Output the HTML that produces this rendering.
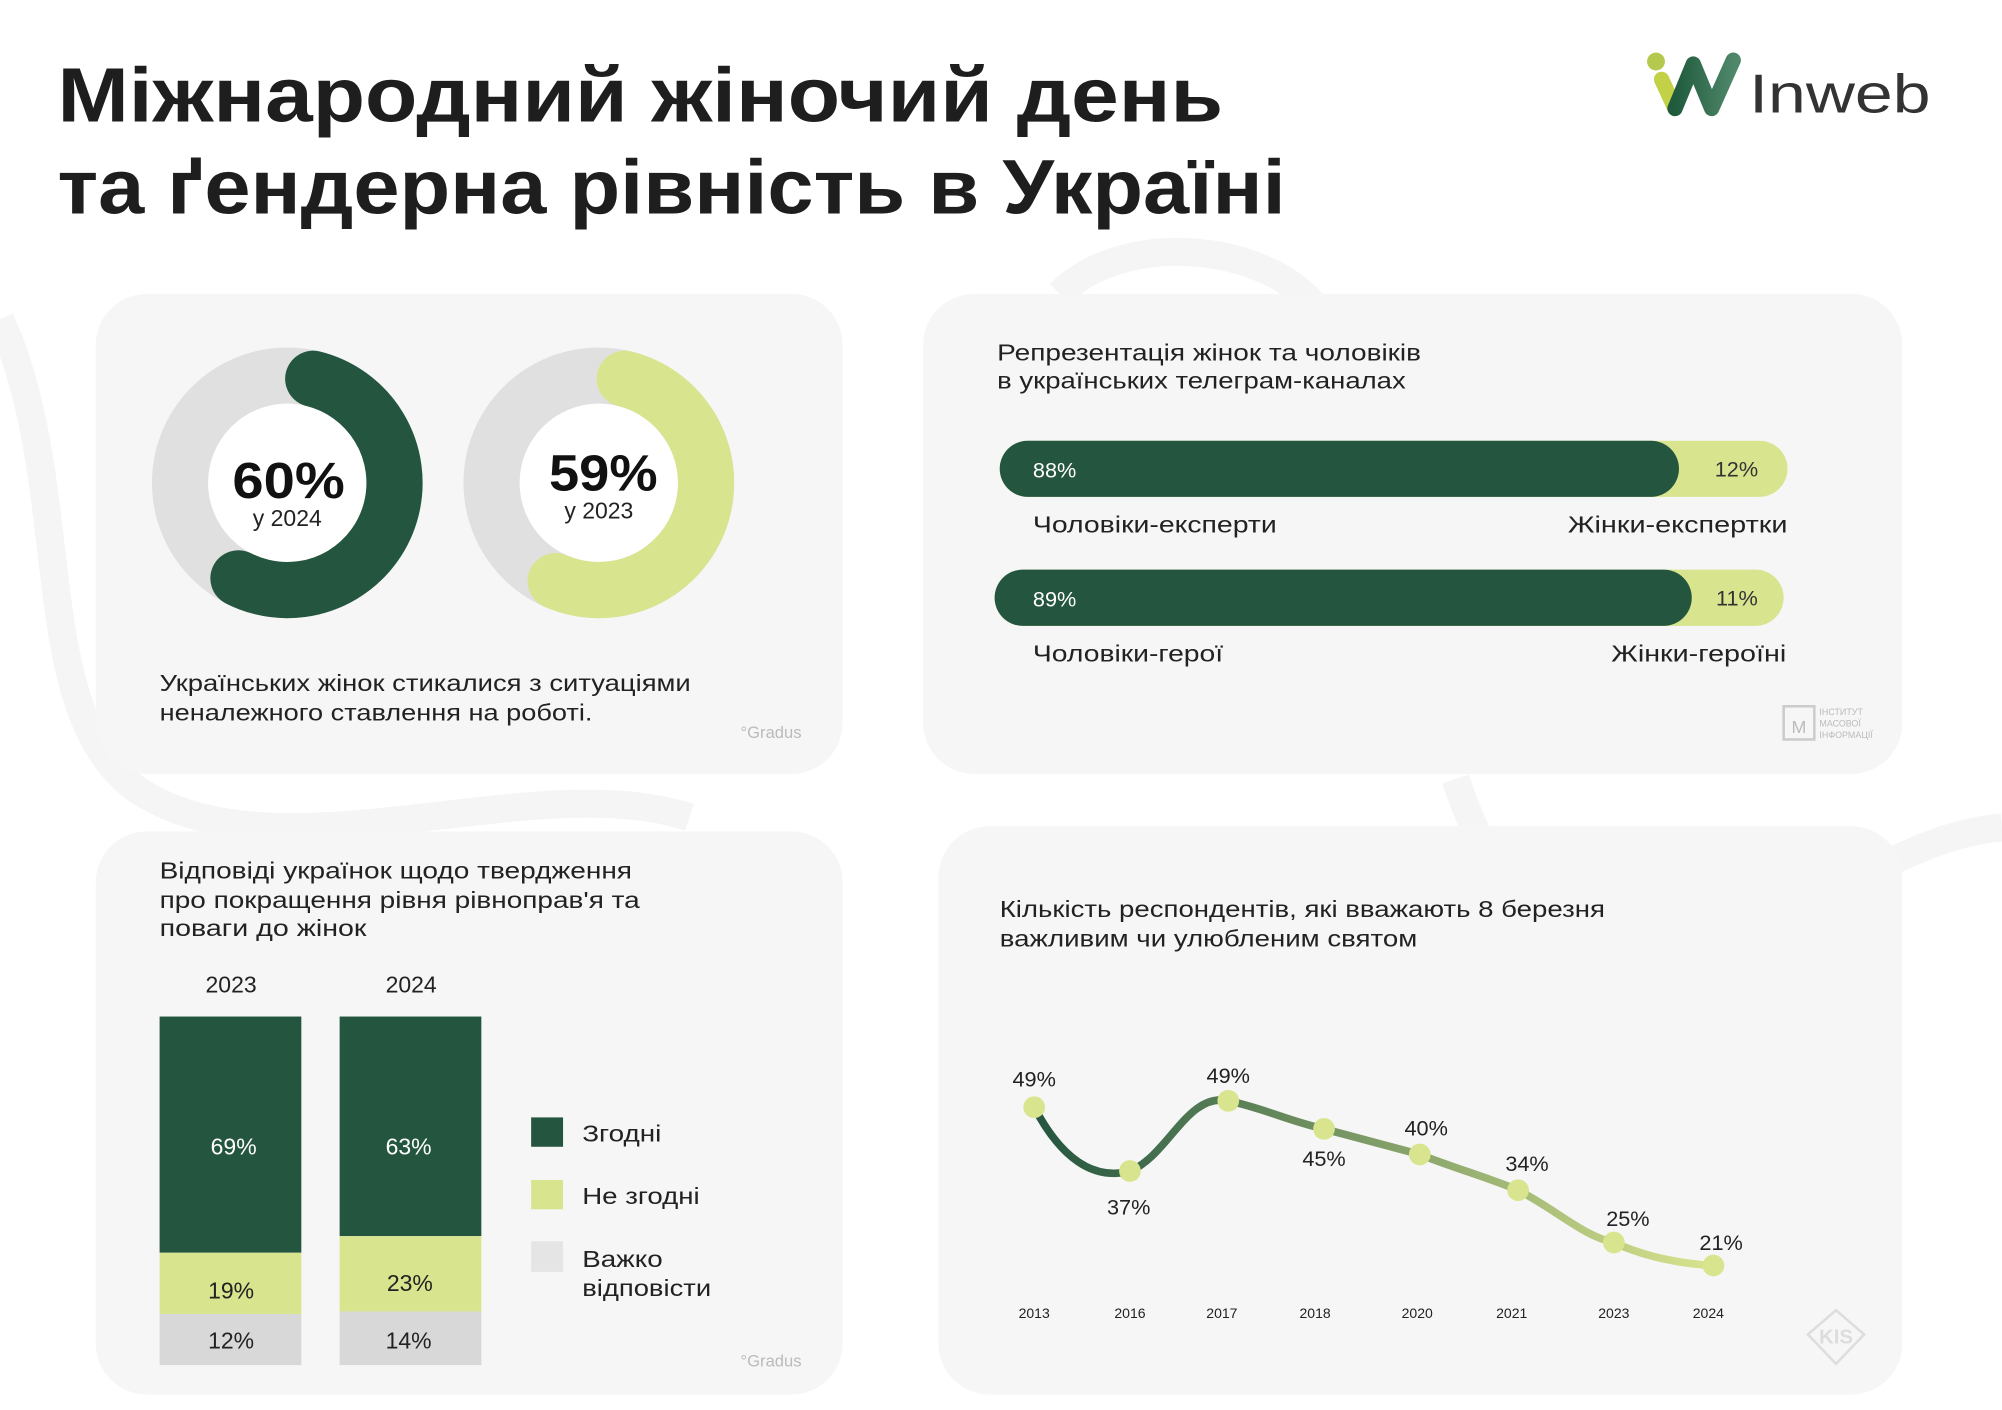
<!DOCTYPE html>
<html><head><meta charset="utf-8"><style>
html,body{margin:0;padding:0;background:#fff;width:2002px;height:1410px;overflow:hidden}
svg{display:block}
text{font-family:"Liberation Sans","DejaVu Sans",sans-serif}
</style></head><body>
<svg width="2002" height="1410" viewBox="0 0 1568 1104" xmlns="http://www.w3.org/2000/svg">
<defs>
<linearGradient id="lg" x1="810" y1="0" x2="1342" y2="0" gradientUnits="userSpaceOnUse">
<stop offset="0" stop-color="#24553f"/><stop offset="1" stop-color="#d9e48e"/></linearGradient>
<linearGradient id="wg" x1="1311" y1="0" x2="1358" y2="0" gradientUnits="userSpaceOnUse">
<stop offset="0" stop-color="#1f5a3c"/><stop offset="1" stop-color="#4f876a"/></linearGradient>
</defs>
<rect width="1568" height="1104" fill="#fff"/>
<g fill="none" stroke="#f5f5f5" stroke-width="22">
<path d="M0,250 C60,380 20,560 110,620 C220,690 420,600 540,640"/>
<path d="M830,230 C880,180 990,190 1030,240"/>
<path d="M1140,610 C1150,640 1160,660 1170,680"/>
<path d="M1470,680 C1510,660 1540,650 1568,648"/>
</g>
<text x="45" y="95" font-size="60" font-weight="bold" fill="#1e1e1e" textLength="913" lengthAdjust="spacingAndGlyphs">Міжнародний жіночий день</text>
<text x="45" y="167" font-size="60" font-weight="bold" fill="#1e1e1e" textLength="962" lengthAdjust="spacingAndGlyphs">та ґендерна рівність в Україні</text>
<circle cx="1297" cy="48" r="7" fill="#b5c94f"/>
<line x1="1301.4" y1="62" x2="1311.9" y2="84.8" stroke="#c2d146" stroke-width="12" stroke-linecap="round"/>
<polyline points="1311.9,84.8 1326.2,50 1340.6,84.8 1357.5,47" fill="none" stroke="url(#wg)" stroke-width="12" stroke-linecap="round" stroke-linejoin="round"/>
<text x="1370" y="88" font-size="43" fill="#333" textLength="142" lengthAdjust="spacingAndGlyphs">Inweb</text>
<rect x="75" y="230" width="585" height="376" rx="40" fill="#f6f6f6"/>
<rect x="723" y="230" width="767" height="376" rx="40" fill="#f6f6f6"/>
<rect x="75" y="651" width="585" height="441" rx="40" fill="#f6f6f6"/>
<rect x="735" y="647" width="755" height="445" rx="40" fill="#f6f6f6"/>
<circle cx="225" cy="378" r="84" fill="none" stroke="#e0e0e0" stroke-width="44"/>
<circle cx="225" cy="378" r="62" fill="#fff"/>
<circle cx="225" cy="378" r="84" fill="none" stroke="#24553f" stroke-width="44" stroke-linecap="round" stroke-dasharray="283 600" transform="rotate(-76 225 378)"/>
<text x="182" y="390" font-size="40" font-weight="bold" fill="#111" textLength="88" lengthAdjust="spacingAndGlyphs">60%</text>
<text x="225" y="412" font-size="18" text-anchor="middle" fill="#222">у 2024</text>
<circle cx="469" cy="378" r="84" fill="none" stroke="#e0e0e0" stroke-width="44"/>
<circle cx="469" cy="378" r="62" fill="#fff"/>
<circle cx="469" cy="378" r="84" fill="none" stroke="#d9e48e" stroke-width="44" stroke-linecap="round" stroke-dasharray="278 600" transform="rotate(-76 469 378)"/>
<text x="430" y="384" font-size="40" font-weight="bold" fill="#111" textLength="85" lengthAdjust="spacingAndGlyphs">59%</text>
<text x="469" y="406" font-size="18" text-anchor="middle" fill="#222">у 2023</text>
<text x="125" y="541" font-size="18" fill="#222" textLength="416" lengthAdjust="spacingAndGlyphs">Українських жінок стикалися з ситуаціями</text>
<text x="125" y="564" font-size="18" fill="#222" textLength="339" lengthAdjust="spacingAndGlyphs">неналежного ставлення на роботі.</text>
<text x="580" y="578" font-size="13" fill="#bbb">°Gradus</text>
<text x="781" y="282" font-size="18" fill="#222" textLength="332" lengthAdjust="spacingAndGlyphs">Репрезентація жінок та чоловіків</text>
<text x="781" y="304" font-size="18" fill="#222" textLength="320" lengthAdjust="spacingAndGlyphs">в українських телеграм-каналах</text>
<rect x="783" y="345" width="617" height="44" rx="22" fill="#d9e48e"/>
<rect x="783" y="345" width="532" height="44" rx="22" fill="#24553f"/>
<text x="809" y="374" font-size="17" fill="#fff">88%</text>
<text x="1343" y="373" font-size="17" fill="#333">12%</text>
<text x="809" y="417" font-size="18" fill="#222" textLength="191" lengthAdjust="spacingAndGlyphs">Чоловіки-експерти</text>
<text x="1228" y="417" font-size="18" fill="#222" textLength="172" lengthAdjust="spacingAndGlyphs">Жінки-експертки</text>
<rect x="779" y="446" width="618" height="44" rx="22" fill="#d9e48e"/>
<rect x="779" y="446" width="546" height="44" rx="22" fill="#24553f"/>
<text x="809" y="475" font-size="17" fill="#fff">89%</text>
<text x="1344" y="474" font-size="17" fill="#333">11%</text>
<text x="809" y="518" font-size="18" fill="#222" textLength="149" lengthAdjust="spacingAndGlyphs">Чоловіки-герої</text>
<text x="1262" y="518" font-size="18" fill="#222" textLength="137" lengthAdjust="spacingAndGlyphs">Жінки-героїні</text>
<rect x="1397" y="553" width="24" height="26" fill="none" stroke="#ccc" stroke-width="2"/>
<text x="1409" y="574" font-size="14" fill="#bbb" text-anchor="middle">М</text>
<text x="1425" y="560" font-size="7" fill="#bbb">ІНСТИТУТ</text>
<text x="1425" y="569" font-size="7" fill="#bbb">МАСОВОЇ</text>
<text x="1425" y="578" font-size="7" fill="#bbb">ІНФОРМАЦІЇ</text>
<text x="125" y="688" font-size="18" fill="#222" textLength="370" lengthAdjust="spacingAndGlyphs">Відповіді українок щодо твердження</text>
<text x="125" y="711" font-size="18" fill="#222" textLength="376" lengthAdjust="spacingAndGlyphs">про покращення рівня рівноправ'я та</text>
<text x="125" y="733" font-size="18" fill="#222" textLength="162" lengthAdjust="spacingAndGlyphs">поваги до жінок</text>
<text x="181" y="777" font-size="18" fill="#222" text-anchor="middle">2023</text>
<text x="322" y="777" font-size="18" fill="#222" text-anchor="middle">2024</text>
<rect x="125" y="796" width="111" height="185" fill="#24553f"/>
<rect x="125" y="981" width="111" height="48" fill="#d9e48e"/>
<rect x="125" y="1029" width="111" height="40" fill="#d8d8d8"/>
<rect x="266" y="796" width="111" height="172" fill="#24553f"/>
<rect x="266" y="968" width="111" height="59" fill="#d9e48e"/>
<rect x="266" y="1027" width="111" height="42" fill="#d8d8d8"/>
<g font-size="18" text-anchor="middle">
<text x="183" y="904" fill="#fff">69%</text>
<text x="320" y="904" fill="#fff">63%</text>
<text x="181" y="1017" fill="#222">19%</text>
<text x="321" y="1011" fill="#222">23%</text>
<text x="181" y="1056" fill="#222">12%</text>
<text x="320" y="1056" fill="#222">14%</text>
</g>
<rect x="416" y="875" width="25" height="23" fill="#24553f"/>
<rect x="416" y="924" width="25" height="23" fill="#d9e48e"/>
<rect x="416" y="972" width="25" height="24" fill="#e5e5e5"/>
<text x="456" y="894" font-size="18" fill="#222" textLength="62" lengthAdjust="spacingAndGlyphs">Згодні</text>
<text x="456" y="943" font-size="18" fill="#222" textLength="92" lengthAdjust="spacingAndGlyphs">Не згодні</text>
<text x="456" y="992" font-size="18" fill="#222" textLength="63" lengthAdjust="spacingAndGlyphs">Важко</text>
<text x="456" y="1015" font-size="18" fill="#222" textLength="101" lengthAdjust="spacingAndGlyphs">відповісти</text>
<text x="580" y="1070" font-size="13" fill="#bbb">°Gradus</text>
<text x="783" y="718" font-size="18" fill="#222" textLength="474" lengthAdjust="spacingAndGlyphs">Кількість респондентів, які вважають 8 березня</text>
<text x="783" y="741" font-size="18" fill="#222" textLength="327" lengthAdjust="spacingAndGlyphs">важливим чи улюбленим святом</text>
<path d="M810,867 C830,905 855,925 885,917 C915,905 930,855 962,862 C990,868 1010,878 1037,884 L1112,904 C1140,915 1165,922 1189,932 C1220,948 1240,968 1264,973 C1290,985 1320,990 1342,991" fill="none" stroke="url(#lg)" stroke-width="6" stroke-linecap="round"/>
<g fill="#d9e48e">
<circle cx="810" cy="867" r="8.5"/><circle cx="885" cy="917" r="8.5"/><circle cx="962" cy="862" r="8.5"/><circle cx="1037" cy="884" r="8.5"/>
<circle cx="1112" cy="904" r="8.5"/><circle cx="1189" cy="932" r="8.5"/><circle cx="1264" cy="973" r="8.5"/><circle cx="1342" cy="991" r="8.5"/>
</g>
<g font-size="17" fill="#222" text-anchor="middle">
<text x="810" y="851">49%</text><text x="884" y="951">37%</text><text x="962" y="848">49%</text><text x="1037" y="913">45%</text>
<text x="1117" y="889">40%</text><text x="1196" y="917">34%</text><text x="1275" y="960">25%</text><text x="1348" y="979">21%</text>
</g>
<g font-size="11" fill="#222" text-anchor="middle">
<text x="810" y="1032">2013</text><text x="885" y="1032">2016</text><text x="957" y="1032">2017</text><text x="1030" y="1032">2018</text>
<text x="1110" y="1032">2020</text><text x="1184" y="1032">2021</text><text x="1264" y="1032">2023</text><text x="1338" y="1032">2024</text>
</g>
<polygon points="1438,1026 1460,1045 1438,1068 1416,1045" fill="none" stroke="#ddd" stroke-width="2"/>
<text x="1438" y="1052" font-size="16" font-weight="bold" fill="#ddd" text-anchor="middle">KIS</text>
</svg>
</body></html>
